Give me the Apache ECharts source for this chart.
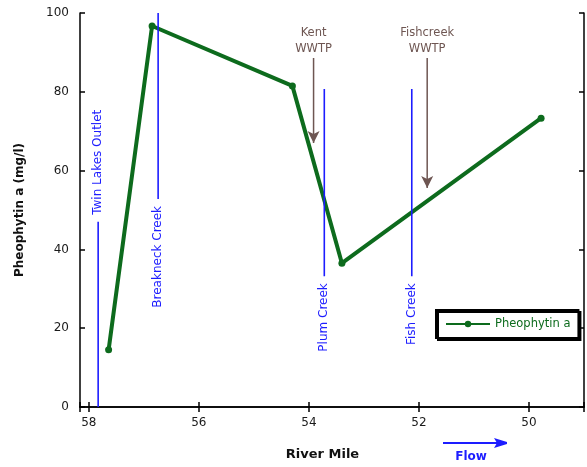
<!DOCTYPE html>
<html>
<head>
<meta charset="utf-8">
<script src="https://cdn.jsdelivr.net/npm/echarts@6/dist/echarts.min.js"></script>
<style>
  html, body { margin: 0; padding: 0; background: #fff; }
  #chart { width: 587px; height: 467px; }
</style>
</head>
<body>
<div id="chart"></div>
<script>
// Pheophytin a measured along the river, by river mile (flow runs toward lower miles)
const riverMiles = [57.64, 56.85, 54.30, 53.40, 49.78];
const pheophytin = [14.5, 96.7, 81.5, 36.5, 73.3];

// Tributary inflows: river mile and the extent of each marker line on the mg/l scale
const tributaryNames = ['Twin Lakes Outlet', 'Breakneck Creek', 'Plum Creek', 'Fish Creek'];
const tributaryMiles = [57.83, 56.74, 53.72, 52.13];
const tributaryLow = [0, 52.8, 33.2, 33.2];
const tributaryHigh = [47.0, 100, 80.7, 80.7];

// Wastewater treatment plant discharges, drawn as downward arrows
const plantNames = ['Kent\nWWTP', 'Fishcreek\nWWTP'];
const plantMiles = [53.915, 51.85];
const plantArrowTop = [88.6, 88.6];
const plantArrowTip = [67.0, 55.6];

const xTicks = [58, 56, 54, 52, 50];
const yTicks = [0, 20, 40, 60, 80, 100];

const FONT = '"DejaVu Sans", "Liberation Sans", sans-serif';
const GREEN = '#0d6b1d';
const BLUE = '#1d1dff';
const BROWN = '#6e5652';
const X_MIN = 49, X_MAX = 58.16;

const chart = echarts.init(document.getElementById('chart'), null, { renderer: 'canvas' });

const frameLine = { lineStyle: { color: '#000', width: 1.5 } };
const innerTick = { inside: true, length: 5, lineStyle: { color: '#000', width: 1.5 } };

function xAxisBase(position) {
  return {
    type: 'value', position, min: X_MIN, max: X_MAX, inverse: true,
    splitLine: { show: false }, axisLine: frameLine, axisTick: innerTick
  };
}
function yAxisBase(position) {
  return {
    type: 'value', position, min: yTicks[0], max: yTicks[yTicks.length - 1],
    interval: yTicks[1] - yTicks[0],
    splitLine: { show: false }, axisLine: frameLine, axisTick: innerTick
  };
}

const series = [{
  name: 'Pheophytin a',
  type: 'line',
  data: riverMiles.map((m, i) => [m, pheophytin[i]]),
  color: GREEN,
  lineStyle: { color: GREEN, width: 4 },
  itemStyle: { color: GREEN },
  symbol: 'circle',
  symbolSize: 7,
  z: 3
}];

tributaryNames.forEach((name, i) => {
  series.push({
    name: 'trib-' + i,
    type: 'line',
    data: [[tributaryMiles[i], tributaryLow[i]], [tributaryMiles[i], tributaryHigh[i]]],
    symbol: 'none',
    lineStyle: { color: BLUE, width: 1.6 },
    silent: true,
    z: 4
  });
});

plantNames.forEach((name, i) => {
  series.push({
    name: 'plant-' + i,
    type: 'line',
    data: [
      { value: [plantMiles[i], plantArrowTop[i]], symbol: 'none' },
      { value: [plantMiles[i], plantArrowTip[i]], symbol: 'arrow', symbolSize: [9, 12], symbolRotate: 180 }
    ],
    lineStyle: { color: BROWN, width: 1.5 },
    itemStyle: { color: BROWN },
    silent: true,
    z: 4
  });
});

chart.setOption({
  animation: false,
  backgroundColor: '#fff',
  grid: { left: 80, right: 3, top: 13, bottom: 60, containLabel: false },
  legend: {
    data: ['Pheophytin a'],
    left: 436, top: 310,
    itemWidth: 44, itemHeight: 8,
    padding: [8, 8, 8, 9],
    borderColor: '#000', borderWidth: 2,
    backgroundColor: '#fff',
    shadowColor: '#000', shadowOffsetX: 2, shadowOffsetY: 2, shadowBlur: 0,
    textStyle: { color: GREEN, fontFamily: FONT, fontSize: 11.5 }
  },
  xAxis: [
    Object.assign(xAxisBase('bottom'), {
      axisLabel: {
        margin: 10, color: '#1a1a1a', fontFamily: FONT, fontSize: 12,
        formatter: v => xTicks.includes(Math.round(v * 1000) / 1000) ? String(v) : ''
      },
      name: 'River Mile', nameLocation: 'middle', nameGap: 41,
      nameTextStyle: { color: '#111', fontFamily: FONT, fontSize: 13, fontWeight: 'bold', padding: [0, 19, 0, 0] }
    }),
    Object.assign(xAxisBase('top'), { axisLabel: { show: false } })
  ],
  yAxis: [
    Object.assign(yAxisBase('left'), {
      axisLabel: { margin: 11, color: '#1a1a1a', fontFamily: FONT, fontSize: 12 },
      name: 'Pheophytin a (mg/l)', nameLocation: 'middle', nameGap: 54,
      nameTextStyle: { color: '#111', fontFamily: FONT, fontSize: 12, fontWeight: 'bold' }
    }),
    Object.assign(yAxisBase('right'), { axisLabel: { show: false } })
  ],
  series
});

// Text annotations placed through the axis scales
const toPx = (mile, val) => chart.convertToPixel({ xAxisIndex: 0, yAxisIndex: 0 }, [mile, val]);
const graphics = [];

tributaryNames.forEach((name, i) => {
  // a line that rises from the axis floor is labelled above; the others below
  const above = tributaryLow[i] === yTicks[0];
  const [px, py] = toPx(tributaryMiles[i], above ? tributaryHigh[i] : tributaryLow[i]);
  graphics.push({
    type: 'text', x: px, y: above ? py - 7 : py + 7, rotation: Math.PI / 2, silent: true,
    style: {
      text: name, fill: BLUE, font: '12px ' + FONT,
      align: above ? 'left' : 'right', verticalAlign: 'middle'
    }
  });
});

plantNames.forEach((name, i) => {
  const [px, py] = toPx(plantMiles[i], plantArrowTop[i]);
  graphics.push({
    type: 'text', x: px, y: py - 1, silent: true,
    style: {
      text: name, fill: BROWN, font: '11.5px ' + FONT, lineHeight: 16,
      align: 'center', verticalAlign: 'bottom'
    }
  });
});

// Flow direction marker below the axis
graphics.push(
  { type: 'line', silent: true, shape: { x1: 443, y1: 443, x2: 498, y2: 443 }, style: { stroke: BLUE, lineWidth: 2 } },
  { type: 'polygon', silent: true, shape: { points: [[494, 438], [507, 442], [507, 444], [494, 448], [497, 443]] }, style: { fill: BLUE } },
  {
    type: 'text', x: 471, y: 457, silent: true,
    style: { text: 'Flow', fill: BLUE, font: 'bold 12px ' + FONT, align: 'center', verticalAlign: 'middle' }
  }
);

chart.setOption({ graphic: graphics });
</script>
</body>
</html>
